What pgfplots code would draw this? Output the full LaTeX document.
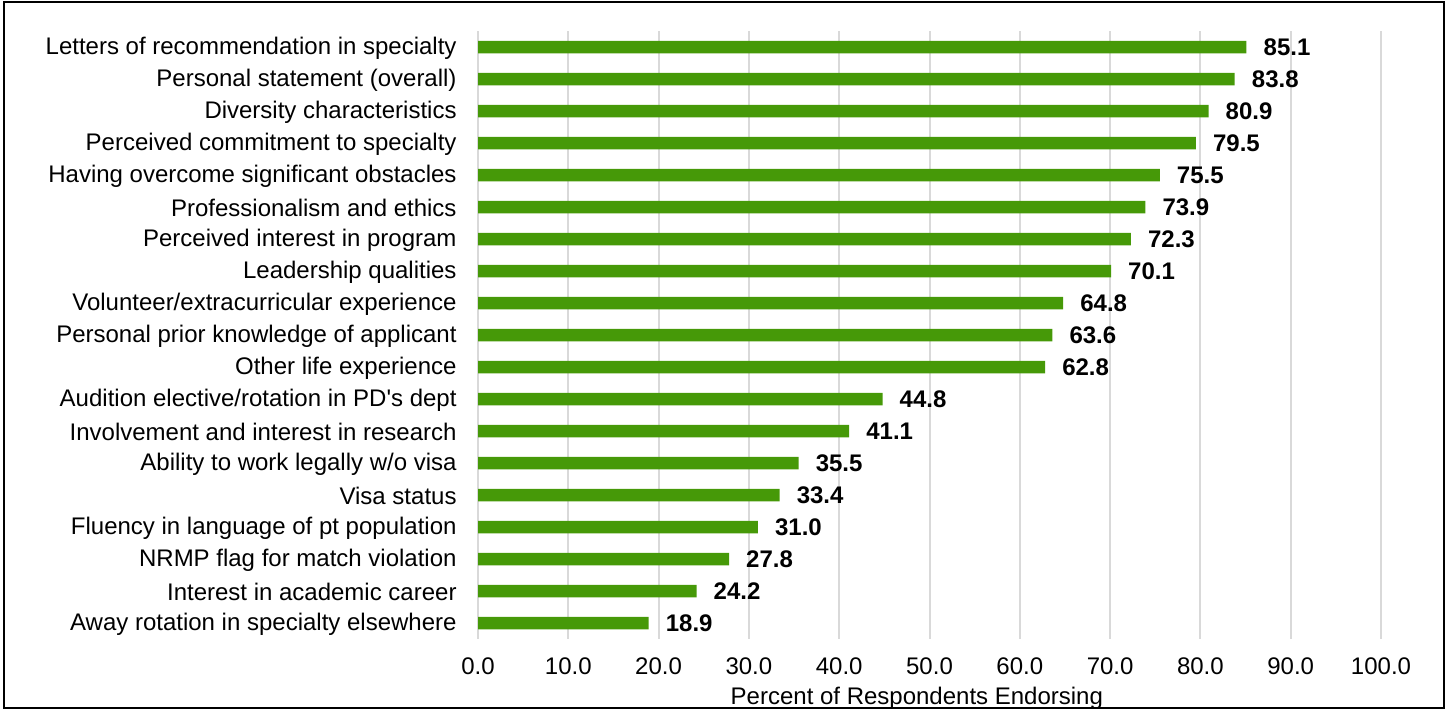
\documentclass[border=0pt]{standalone}
\usepackage{pgfplots}
\pgfplotsset{compat=1.18}
\usepackage{fontspec}
\setmainfont{Liberation Sans}
\definecolor{bargreen}{RGB}{70,153,8}
\definecolor{gridgray}{RGB}{217,217,217}
\begin{document}
\fontsize{24bp}{28bp}\selectfont
\begin{tikzpicture}
\path (0bp,0bp) rectangle (1450bp,710bp);
\draw[line width=2bp] (4bp,2bp) rectangle (1444bp,707.5bp);
\begin{axis}[
  at={(478bp,71bp)}, anchor=south west,
  scale only axis, width=903bp, height=608bp,
  xbar, bar width=12.5bp,
  xmin=0, xmax=100, ymin=-0.5, ymax=18.5,
  y dir=reverse,
  xtick={0,10,...,100},
  ytick={0,...,18},
  yticklabels={Letters of recommendation in specialty,Personal statement (overall),Diversity characteristics,Perceived commitment to specialty,Having overcome significant obstacles,Professionalism and ethics,Perceived interest in program,Leadership qualities,Volunteer/extracurricular experience,Personal prior knowledge of applicant,Other life experience,Audition elective/rotation in PD\textquotesingle s dept,Involvement and interest in research,Ability to work legally w/o visa,Visa status,Fluency in language of pt population,NRMP flag for match violation,Interest in academic career,Away rotation in specialty elsewhere},
  axis line style={draw=none},
  major tick style={draw=none},
  xmajorgrids, grid style={gridgray, line width=2bp},
  /pgf/number format/assume math mode=true,
  /pgf/number format/.cd, fixed, fixed zerofill, precision=1, /pgfplots/.cd,
  xticklabel style={anchor=north, inner sep=0pt, yshift=-19bp, font=\fontsize{24bp}{28bp}\selectfont},
  yticklabel style={anchor=east, inner sep=0pt, xshift=-17bp, yshift=-1bp, font=\fontsize{24bp}{28bp}\selectfont},
  xlabel={Percent of Respondents Endorsing},
  xlabel style={at={(axis description cs:0.486,0)}, anchor=north, inner sep=0pt, yshift=-48bp, font=\fontsize{24bp}{28bp}\selectfont},
  nodes near coords,
  nodes near coords style={anchor=west, inner sep=0pt, xshift=17bp, font=\fontsize{24bp}{28bp}\selectfont\bfseries, text=black},
  clip=false,
]
\addplot[fill=bargreen, draw=none] coordinates {
(85.1,0) (83.8,1) (80.9,2) (79.5,3) (75.5,4) (73.9,5) (72.3,6) (70.1,7) (64.8,8) (63.6,9) (62.8,10) (44.8,11) (41.1,12) (35.5,13) (33.4,14) (31.0,15) (27.8,16) (24.2,17) (18.9,18)
};
\end{axis}
\end{tikzpicture}
\end{document}
